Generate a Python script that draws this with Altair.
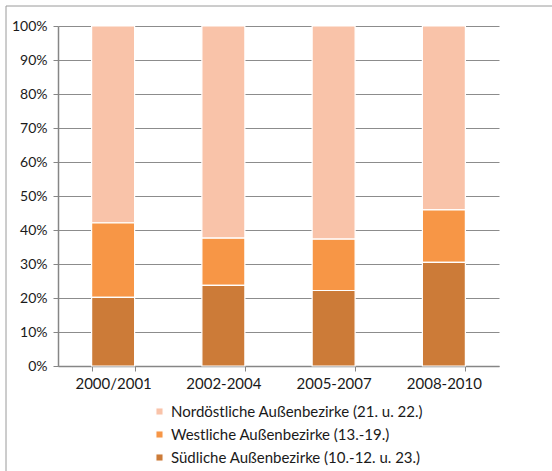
import altair as alt
import pandas as pd

# Zeiträume und Anteile je Bezirksgruppe (in %)
periods = ["2000/2001", "2002-2004", "2005-2007", "2008-2010"]
groups = [
    "Nordöstliche Außenbezirke (21. u. 22.)",
    "Westliche Außenbezirke (13.-19.)",
    "Südliche Außenbezirke (10.-12. u. 23.)",
]
nordost = [57.9, 62.4, 62.7, 54.1]
westlich = [21.9, 13.9, 15.1, 15.4]
suedlich = [20.2, 23.7, 22.2, 30.5]
colors = ["#F9C3A9", "#F79646", "#CC7B38"]

rows = []
for i, p in enumerate(periods):
    for g, vals, order in zip(groups, [nordost, westlich, suedlich], [3, 2, 1]):
        rows.append({"Zeitraum": p, "Gruppe": g, "Anteil": vals[i], "Reihenfolge": order})
df = pd.DataFrame(rows)

FONT = "Lato"
W, H = 441, 340

bars = alt.Chart(df).mark_bar(stroke="white", strokeWidth=1.2).encode(
    x=alt.X(
        "Zeitraum:N",
        sort=periods,
        title=None,
        scale=alt.Scale(paddingInner=0.61, paddingOuter=0.305),
        axis=alt.Axis(
            labelAngle=0,
            labelFontSize=15,
            labelFont=FONT,
            labelColor="#1a1a1a",
            labelPadding=5,
            tickBand="extent",
            tickSize=5,
            tickColor="#868686",
            domainColor="#868686",
            domainWidth=1.5,
            grid=False,
        ),
    ),
    y=alt.Y(
        "Anteil:Q",
        stack="normalize",
        title=None,
        scale=alt.Scale(domain=[0, 1]),
        axis=alt.Axis(
            format=".0%",
            values=[i / 10 for i in range(11)],
            labelFontSize=14,
            labelFont=FONT,
            labelColor="#1a1a1a",
            labelPadding=6,
            tickSize=5,
            tickColor="#868686",
            domainColor="#868686",
            domainWidth=1.5,
            gridColor="#8c8c8c",
            gridWidth=1,
        ),
    ),
    color=alt.Color(
        "Gruppe:N",
        sort=groups,
        scale=alt.Scale(domain=groups, range=colors),
        legend=alt.Legend(
            title=None,
            orient="none",
            legendX=94,
            legendY=378,
            direction="vertical",
            symbolType="square",
            symbolSize=50,
            symbolStrokeColor="white",
            symbolStrokeWidth=1,
            labelFontSize=15,
            labelFont=FONT,
            labelColor="#1a1a1a",
            labelLimit=0,
            rowPadding=7,
            labelOffset=4,
        ),
    ),
    order=alt.Order("Reihenfolge:Q", sort="ascending"),
)

# Rahmen um das gesamte Diagramm
frame = alt.Chart(pd.DataFrame({"k": [0]})).mark_rect(
    fill=None, stroke="#9a9a9a", strokeWidth=1, clip=False
).encode(
    x=alt.value(-52),
    x2=alt.value(600),
    y=alt.value(-20),
    y2=alt.value(520),
)

chart = (
    alt.layer(frame, bars)
    .properties(
        width=W,
        height=H,
        autosize=alt.AutoSizeParams(type="none"),
        padding={"left": 58, "top": 26, "right": 53, "bottom": 105},
        background="white",
    )
    .configure_view(stroke=None)
)

chart.save("out.html", embed_options={"renderer": "svg", "actions": False})
